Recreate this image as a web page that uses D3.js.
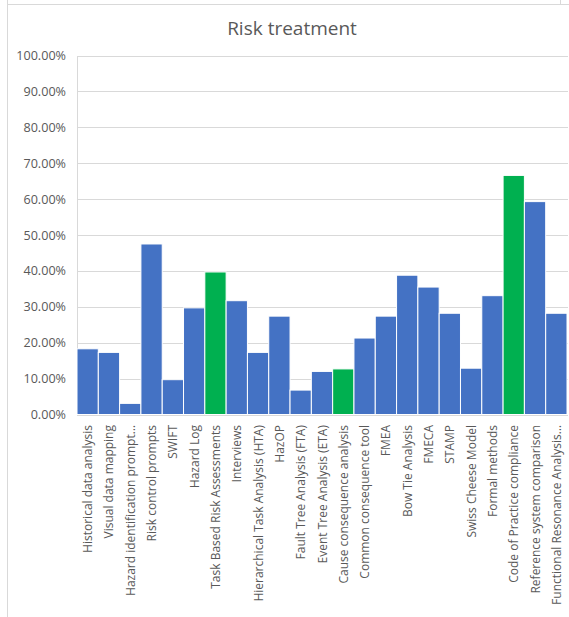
<!DOCTYPE html>
<html>
<head>
<meta charset="utf-8">
<script src="https://cdn.jsdelivr.net/npm/d3@7"></script>
<style>
  html, body { margin: 0; padding: 0; background: #fff; }
  svg { display: block; }
</style>
</head>
<body>
<svg id="chart" width="569" height="617"></svg>
<script>
// Share of respondents using each technique for risk treatment
const categories = [
  "Historical data analysis",
  "Visual data mapping",
  "Hazard identification prompt…",
  "Risk control prompts",
  "SWIFT",
  "Hazard Log",
  "Task Based Risk Assessments",
  "Interviews",
  "Hierarchical Task Analysis (HTA)",
  "HazOP",
  "Fault Tree Analysis (FTA)",
  "Event Tree Analysis (ETA)",
  "Cause consequence analysis",
  "Common consequence tool",
  "FMEA",
  "Bow Tie Analysis",
  "FMECA",
  "STAMP",
  "Swiss Cheese Model",
  "Formal methods",
  "Code of Practice compliance",
  "Reference system comparison",
  "Functional Resonance Analysis…"
];
const values = [
  0.183, 0.173, 0.031, 0.475, 0.097, 0.297, 0.397, 0.317, 0.173, 0.274,
  0.068, 0.120, 0.127, 0.213, 0.274, 0.388, 0.355, 0.282, 0.129, 0.331,
  0.666, 0.593, 0.282
];
// Techniques drawn in the highlight colour
const highlighted = [
  "Task Based Risk Assessments",
  "Cause consequence analysis",
  "Code of Practice compliance"
];
const yTicks = [0, 0.1, 0.2, 0.3, 0.4, 0.5, 0.6, 0.7, 0.8, 0.9, 1.0];
const title = "Risk treatment";

const svg = d3.select("#chart");
const font = "'Open Sans', 'Noto Sans', sans-serif";
const textColor = "#595959";
const gridColor = "#d9d9d9";

const plot = { left: 77, right: 567, top: 55.5, bottom: 414.5 };

// Outer frame lines
svg.append("rect")
  .attr("x", 7.5).attr("y", -2).attr("width", 553).attr("height", 6.5)
  .attr("fill", "none").attr("stroke", gridColor);
svg.append("line")
  .attr("x1", 7.5).attr("x2", 7.5).attr("y1", 4.5).attr("y2", 620)
  .attr("stroke", gridColor);
svg.append("line")
  .attr("x1", 7.5).attr("x2", 570).attr("y1", 4.5).attr("y2", 4.5)
  .attr("stroke", gridColor);

const x = d3.scaleBand()
  .domain(categories)
  .range([plot.left, plot.right])
  .paddingInner(0).paddingOuter(0);

const y = d3.scaleLinear()
  .domain([0, 1])
  .range([plot.bottom, plot.top]);

// Title
svg.append("text")
  .attr("x", 292).attr("y", 35)
  .attr("text-anchor", "middle")
  .attr("font-family", font)
  .attr("font-size", 19)
  .attr("fill", textColor)
  .text(title);

// Gridlines
svg.append("g")
  .selectAll("line")
  .data(yTicks)
  .join("line")
  .attr("x1", plot.left).attr("x2", plot.right + 1)
  .attr("y1", d => Math.round(y(d)) + 0.5)
  .attr("y2", d => Math.round(y(d)) + 0.5)
  .attr("stroke", gridColor)
  .attr("stroke-width", 1);

// Left plot edge
svg.append("line")
  .attr("x1", plot.left + 0.5).attr("x2", plot.left + 0.5)
  .attr("y1", Math.round(y(1)) + 0.5).attr("y2", Math.round(y(0)) + 0.5)
  .attr("stroke", gridColor);

// Y axis labels
const yAxis = d3.axisLeft(y)
  .tickValues(yTicks)
  .tickFormat(d3.format(".2%"))
  .tickSize(0)
  .tickPadding(11);
const gy = svg.append("g")
  .attr("transform", `translate(${plot.left},0)`)
  .call(yAxis);
gy.select(".domain").remove();
gy.selectAll("text")
  .attr("font-family", font)
  .attr("font-size", 12.6)
  .attr("fill", textColor);

// Bars
svg.append("g")
  .selectAll("rect")
  .data(categories)
  .join("rect")
  .attr("x", d => x(d))
  .attr("width", x.bandwidth())
  .attr("y", (d, i) => y(values[i]))
  .attr("height", (d, i) => y(0) - y(values[i]))
  .attr("fill", d => highlighted.includes(d) ? "#00B050" : "#4472C4")
  .attr("stroke", "#ffffff")
  .attr("stroke-width", 1);

// Category labels
const xAxis = d3.axisBottom(x).tickSize(0).tickPadding(0);
const gx = svg.append("g")
  .attr("transform", `translate(0,${plot.bottom})`)
  .call(xAxis);
gx.select(".domain").remove();
gx.selectAll("text")
  .attr("font-family", font)
  .attr("font-size", 12)
  .attr("fill", textColor)
  .attr("text-anchor", "end")
  .attr("dy", null)
  .attr("y", 0)
  .attr("transform", "translate(4.5,10.5) rotate(-90)");
</script>
</body>
</html>
